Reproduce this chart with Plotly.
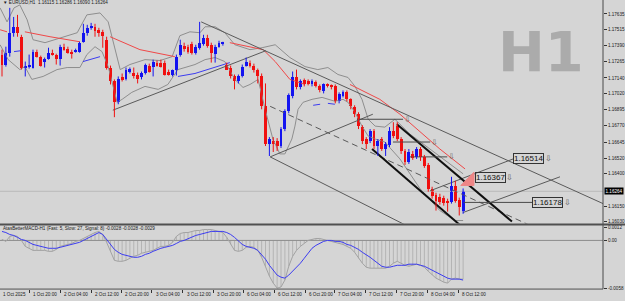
import plotly.graph_objects as go

# ---------------- data ----------------
open_ = [1.17321, 1.17244, 1.17336, 1.17490, 1.17536, 1.17459, 1.17221, 1.17228, 1.17221, 1.17344,
         1.17305, 1.17267, 1.17290, 1.17336, 1.17321, 1.17290, 1.17382, 1.17367, 1.17344, 1.17344,
         1.17344, 1.17420, 1.17490, 1.17528, 1.17536, 1.17513, 1.17497, 1.17436, 1.17221, 1.17113,
         1.16952, 1.17144, 1.17129, 1.17190, 1.17182, 1.17167, 1.17144, 1.17182, 1.17236, 1.17228,
         1.17259, 1.17259, 1.17259, 1.17190, 1.17167, 1.17198, 1.17321, 1.17390, 1.17382, 1.17405,
         1.17336, 1.17374, 1.17405, 1.17451, 1.17397, 1.17328, 1.17382, 1.17405, 1.17244, 1.17221,
         1.17152, 1.17113, 1.17159, 1.17236, 1.17259, 1.17236, 1.17198, 1.17159, 1.16921, 1.16629,
         1.16652, 1.16652, 1.16614, 1.16745, 1.16883, 1.16998, 1.17144, 1.17067, 1.17121, 1.17113,
         1.17090, 1.17106, 1.17075, 1.17036, 1.17083, 1.17083, 1.17075, 1.16960, 1.16998, 1.17029,
         1.16975, 1.16914, 1.16860, 1.16760, 1.16668, 1.16652, 1.16729, 1.16614, 1.16668, 1.16591,
         1.16622, 1.16729, 1.16768, 1.16668, 1.16576, 1.16491, 1.16553, 1.16530, 1.16591, 1.16530,
         1.16468, 1.16284, 1.16238, 1.16222, 1.16215, 1.16184, 1.16184, 1.16307, 1.16199, 1.16115]
high = [1.17359, 1.17382, 1.17682, 1.17612, 1.17628, 1.17474, 1.17267, 1.17321, 1.17359, 1.17359,
        1.17313, 1.17298, 1.17374, 1.17359, 1.17328, 1.17397, 1.17405, 1.17382, 1.17359, 1.17367,
        1.17420, 1.17559, 1.17551, 1.17566, 1.17559, 1.17528, 1.17513, 1.17459, 1.17236, 1.17129,
        1.17152, 1.17175, 1.17221, 1.17221, 1.17221, 1.17182, 1.17190, 1.17251, 1.17251, 1.17282,
        1.17275, 1.17282, 1.17275, 1.17205, 1.17205, 1.17321, 1.17436, 1.17413, 1.17397, 1.17420,
        1.17397, 1.17574, 1.17474, 1.17474, 1.17413, 1.17397, 1.17428, 1.17420, 1.17259, 1.17236,
        1.17167, 1.17167, 1.17244, 1.17298, 1.17275, 1.17251, 1.17213, 1.17175, 1.17098, 1.16683,
        1.16683, 1.16675, 1.16760, 1.16898, 1.17021, 1.17190, 1.17205, 1.17129, 1.17136, 1.17129,
        1.17129, 1.17121, 1.17090, 1.17098, 1.17098, 1.17090, 1.17090, 1.17029, 1.17044, 1.17044,
        1.16983, 1.16929, 1.16875, 1.16775, 1.16683, 1.16745, 1.16745, 1.16668, 1.16683, 1.16645,
        1.16760, 1.16798, 1.16798, 1.16683, 1.16591, 1.16591, 1.16576, 1.16606, 1.16606, 1.16545,
        1.16483, 1.16299, 1.16253, 1.16245, 1.16230, 1.16207, 1.16376, 1.16345, 1.16215, 1.16286]
low = [1.17152, 1.17228, 1.17305, 1.17459, 1.17459, 1.17205, 1.17152, 1.17213, 1.17213, 1.17298,
       1.17228, 1.17221, 1.17282, 1.17313, 1.17244, 1.17236, 1.17351, 1.17328, 1.17290, 1.17336,
       1.17336, 1.17413, 1.17467, 1.17513, 1.17459, 1.17459, 1.17374, 1.17205, 1.17090, 1.16837,
       1.16937, 1.17113, 1.17121, 1.17175, 1.17136, 1.17098, 1.17129, 1.17167, 1.17182, 1.17152,
       1.17228, 1.17221, 1.17159, 1.17159, 1.17152, 1.17159, 1.17305, 1.17344, 1.17328, 1.17321,
       1.17321, 1.17359, 1.17390, 1.17374, 1.17259, 1.17259, 1.17374, 1.17390, 1.17205, 1.17136,
       1.17052, 1.17098, 1.17144, 1.17228, 1.17221, 1.17182, 1.17098, 1.16898, 1.16614, 1.16537,
       1.16568, 1.16576, 1.16599, 1.16729, 1.16867, 1.16983, 1.17052, 1.17052, 1.17075, 1.17083,
       1.17075, 1.17067, 1.17029, 1.17021, 1.17067, 1.17052, 1.16944, 1.16944, 1.16990, 1.16960,
       1.16898, 1.16837, 1.16745, 1.16629, 1.16591, 1.16637, 1.16591, 1.16537, 1.16576, 1.16537,
       1.16606, 1.16675, 1.16652, 1.16553, 1.16468, 1.16476, 1.16507, 1.16514, 1.16499, 1.16445,
       1.16261, 1.16207, 1.16115, 1.16161, 1.16153, 1.16107, 1.16169, 1.16176, 1.16077, 1.16090]
close = [1.17244, 1.17336, 1.17490, 1.17536, 1.17490, 1.17221, 1.17228, 1.17236, 1.17344, 1.17305,
         1.17236, 1.17290, 1.17336, 1.17321, 1.17290, 1.17382, 1.17359, 1.17336, 1.17328, 1.17351,
         1.17413, 1.17490, 1.17528, 1.17536, 1.17505, 1.17490, 1.17467, 1.17221, 1.17113, 1.16952,
         1.17136, 1.17129, 1.17205, 1.17213, 1.17152, 1.17129, 1.17175, 1.17244, 1.17190, 1.17267,
         1.17236, 1.17228, 1.17167, 1.17167, 1.17198, 1.17305, 1.17397, 1.17367, 1.17344, 1.17336,
         1.17382, 1.17413, 1.17451, 1.17390, 1.17336, 1.17382, 1.17413, 1.17407, 1.17205, 1.17152,
         1.17113, 1.17152, 1.17228, 1.17267, 1.17236, 1.17198, 1.17159, 1.16921, 1.16629, 1.16668,
         1.16629, 1.16614, 1.16745, 1.16883, 1.17006, 1.17144, 1.17067, 1.17113, 1.17090, 1.17098,
         1.17113, 1.17075, 1.17044, 1.17090, 1.17080, 1.17067, 1.16960, 1.17013, 1.17029, 1.16975,
         1.16921, 1.16860, 1.16768, 1.16652, 1.16629, 1.16729, 1.16614, 1.16652, 1.16591, 1.16629,
         1.16729, 1.16691, 1.16668, 1.16576, 1.16491, 1.16568, 1.16522, 1.16591, 1.16530, 1.16460,
         1.16284, 1.16230, 1.16192, 1.16184, 1.16176, 1.16180, 1.16307, 1.16192, 1.16146, 1.16264]

# Bollinger bands (sampled at bar positions)
bb_up_x = [-0.5, 1.3, 3.1, 4.6, 6.5, 8.0, 11.1, 15.0, 19.4, 21.9, 25.3, 27.4, 29.2, 30.5, 33.0, 36.9,
           40.8, 43.9, 45.9, 48.5, 51.1, 52.4, 55.0, 57.5, 60.1, 64.0, 67.1, 70.5, 74.3, 78.2, 81.5,
           84.1, 86.7, 89.3, 91.1, 92.9, 94.5, 96.3, 98.8, 101.4, 105.3, 110.5, 115.6, 119.0]
bb_up = [1.17682, 1.17574, 1.17682, 1.17705, 1.17589, 1.17436, 1.17413, 1.17451, 1.17490, 1.17628,
         1.17643, 1.17574, 1.17359, 1.17205, 1.17244, 1.17282, 1.17275, 1.17305, 1.17467, 1.17497,
         1.17490, 1.17536, 1.17536, 1.17490, 1.17397, 1.17359, 1.17374, 1.17397, 1.17298, 1.17228,
         1.17205, 1.17221, 1.17167, 1.17144, 1.17075, 1.16975, 1.16821, 1.16768, 1.16760, 1.16821,
         1.16706, 1.16591, 1.16476, 1.16399]
bb_lo_x = [-0.5, 1.6, 4.6, 5.9, 7.7, 10.6, 14.2, 16.8, 20.1, 21.9, 24.0, 25.8, 27.4, 29.7, 31.0, 33.5,
           36.9, 40.3, 42.8, 45.4, 48.0, 49.8, 52.4, 55.0, 57.5, 60.1, 62.2, 64.0, 66.1, 67.9, 69.9,
           71.7, 73.0, 74.8, 75.6, 76.4, 77.7, 80.0, 82.6, 85.9, 88.0, 89.3, 91.1, 92.9, 94.5, 96.3,
           98.8, 102.7, 107.9, 113.0, 116.9, 119.0]
bb_lo = [1.17397, 1.17282, 1.17205, 1.17228, 1.17129, 1.17152, 1.17205, 1.17221, 1.17221, 1.17321,
         1.17382, 1.17344, 1.17228, 1.16952, 1.16975, 1.17029, 1.17075, 1.17052, 1.17090, 1.17205,
         1.17228, 1.17244, 1.17282, 1.17298, 1.17267, 1.17129, 1.17067, 1.17090, 1.17129, 1.16898,
         1.16668, 1.16553, 1.16553, 1.16668, 1.16768, 1.16898, 1.16952, 1.16975, 1.16990, 1.16960,
         1.16975, 1.16952, 1.16875, 1.16768, 1.16691, 1.16668, 1.16645, 1.16514, 1.16284, 1.16115,
         1.16038, 1.16038]

# red moving average (drawn in segments)
ma_red_x = [-0.5, 1.3, None, 5.9, 12.4, 20.1, None, 27.9, 35.6, 44.6, None,
            58.8, 64.0, 67.4, 70.5, 74.3, 78.2, None, 89.8, 97.5, 102.7, 107.9, 113.0, 119.5]
ma_red = [1.17513, 1.17497, None, 1.17497, 1.17459, 1.17420, None, 1.17459, 1.17359, 1.17305, None,
          1.17413, 1.17382, 1.17359, 1.17267, 1.17129, 1.17090, None, 1.17090, 1.16975, 1.16860,
          1.16722, 1.16591, 1.16437]
# blue moving average (drawn in segments)
ma_blue_x = [3.1, 4.9, None, 20.9, 25.3, None, 45.4, 49.8, 58.8, None, 80.3, 82.1, None, 84.1, 85.9]
ma_blue = [1.17344, 1.17351, None, 1.17267, 1.17305, None, 1.17152, 1.17175, 1.17259, None,
           1.16929, 1.16937, None, 1.16944, 1.16937]

# MACD panel
macd = [0.00007, -0.00007, 0.00029, 0.00036, 0.00029, 0.0, -0.00043, -0.00057, -0.00072, -0.00072,
        -0.00072, -0.00072, -0.00079, -0.00079, -0.00065, -0.00043, -0.00036, -0.00029, -0.00022, -0.00007,
        0.0, 0.00014, 0.00029, 0.00043, 0.00057, 0.00065, 0.00043, -0.00014, -0.00079, -0.00144,
        -0.00151, -0.00151, -0.00144, -0.00129, -0.00115, -0.00108, -0.00093, -0.00086, -0.00079, -0.00072,
        -0.00057, -0.00043, -0.00043, -0.00036, -0.00014, 0.00029, 0.0005, 0.00057, 0.00057, 0.00065,
        0.00072, 0.00072, 0.00079, 0.00079, 0.00079, 0.00072, 0.00065, 0.00057, 0.00022, -0.00029,
        -0.00072, -0.00079, -0.00072, -0.0005, -0.00043, -0.0005, -0.00072, -0.00122, -0.00187, -0.00258,
        -0.00309, -0.00345, -0.00337, -0.00287, -0.00187, -0.00115, -0.00072, -0.00043, -0.00022, 0.0,
        0.00007, 0.00014, 0.00014, 0.00007, 0.0, -0.00007, -0.00014, -0.00022, -0.00029, -0.00043,
        -0.00057, -0.00086, -0.00129, -0.00165, -0.00194, -0.00201, -0.00201, -0.00201, -0.00201, -0.00201,
        -0.00187, -0.00165, -0.00151, -0.00165, -0.0018, -0.00187, -0.0018, -0.00172, -0.0018, -0.00194,
        -0.00223, -0.00251, -0.00273, -0.00287, -0.00302, -0.00309, -0.0028, -0.00273, -0.0028, -0.0028]
signal = [0.00065, 0.00057, 0.00043, 0.00036, 0.00022, 0.00007, 0.0, -0.00014, -0.00029, -0.00036,
          -0.00043, -0.0005, -0.00057, -0.00057, -0.00057, -0.0005, -0.00043, -0.00036, -0.00029, -0.00022,
          -0.00014, 0.0, 0.00014, 0.00029, 0.00043, 0.00057, 0.00043, 0.00007, -0.00029, -0.00065,
          -0.00086, -0.00101, -0.00108, -0.00115, -0.00122, -0.00122, -0.00115, -0.00101, -0.00093, -0.00079,
          -0.00065, -0.00057, -0.0005, -0.00043, -0.00036, -0.00022, -0.00007, 0.0, 0.00014, 0.00022,
          0.00036, 0.00043, 0.0005, 0.00057, 0.00065, 0.00065, 0.00065, 0.00065, 0.00057, 0.00043,
          0.00022, -0.00007, -0.00029, -0.00043, -0.0005, -0.00057, -0.00072, -0.00101, -0.00136, -0.0018,
          -0.00215, -0.00251, -0.00266, -0.00273, -0.00251, -0.00223, -0.00194, -0.00165, -0.00129, -0.00093,
          -0.00057, -0.00036, -0.00022, -0.00007, 0.0, 0.0, -0.00007, -0.00007, -0.00014, -0.00029,
          -0.00036, -0.0005, -0.00065, -0.00086, -0.00101, -0.00122, -0.00144, -0.00165, -0.00187, -0.00194,
          -0.00194, -0.00187, -0.0018, -0.0018, -0.0018, -0.00172, -0.00172, -0.00172, -0.0018, -0.00187,
          -0.00201, -0.00215, -0.0023, -0.00244, -0.00258, -0.00273, -0.0028, -0.0028, -0.0028, -0.00287]

x_tick_pos = [7.0, 15.0, 23.0, 30.8, 38.7, 46.7, 54.5, 62.2, 70.2, 78.2, 85.9, 93.9, 101.7, 109.7, 117.7]
x_tick_text = ["1 Oct 20:00", "2 Oct 04:00", "2 Oct 12:00", "2 Oct 20:00", "3 Oct 04:00",
               "3 Oct 12:00", "3 Oct 20:00", "6 Oct 04:00", "6 Oct 12:00", "6 Oct 20:00",
               "7 Oct 04:00", "7 Oct 12:00", "7 Oct 20:00", "8 Oct 04:00", "8 Oct 12:00"]
price_ticks = [1.17635, 1.17515, 1.17390, 1.17265, 1.17140, 1.17020, 1.16895, 1.16770,
               1.16645, 1.16520, 1.16400, 1.16150, 1.16030]
last_price = 1.16264

# drawn objects: (x0, y0, x1, y1)
trend_lines = [(51.4, 1.17574, 155.1, 1.16169), (28.6, 1.16891, 68.1, 1.17351),
               (69.2, 1.16530, 107.9, 1.15946), (69.2, 1.16530, 95.7, 1.16860),
               (110.5, 1.16268, 131.9, 1.16514), (119.0, 1.16100, 144.0, 1.16376)]
dashed_lines = [(69.2, 1.16921, 136.3, 1.16000)]
thick_lines = [(101.9, 1.16783, 131.6, 1.16030), (95.5, 1.16591, 119.5, 1.15969)]
level_lines = [(91.6, 103.5, 1.16821), (100.9, 110.5, 1.16645), (105.3, 114.9, 1.16530),
               (119.0, 136.8, 1.16178)]
price_labels = [(131.9, 1.16514, 139.6), (122.1, 1.16367, 129.6), (136.8, 1.16178, 144.6)]
tri_x = [118.4, 121.8, 121.8, 118.4]
tri_y = [1.16309, 1.16412, 1.16309, 1.16309]

# ---------------- figure ----------------
W, H = 625, 301
BG = "#d5d5d5"
BLUE = "#1414f0"
RED = "#f01010"
n = len(open_)
xs = list(range(n))

fig = go.Figure()

# Bollinger bands
fig.add_trace(go.Scatter(x=bb_up_x, y=bb_up, mode="lines", line=dict(color="#8e8e8e", width=1),
                         xaxis="x", yaxis="y", hoverinfo="skip"))
fig.add_trace(go.Scatter(x=bb_lo_x, y=bb_lo, mode="lines", line=dict(color="#8e8e8e", width=1),
                         xaxis="x", yaxis="y", hoverinfo="skip"))
fig.add_trace(go.Scatter(x=ma_red_x, y=ma_red, mode="lines", line=dict(color="#f04848", width=1),
                         connectgaps=False, xaxis="x", yaxis="y"))
fig.add_trace(go.Scatter(x=ma_blue_x, y=ma_blue, mode="lines", line=dict(color="#3c3cf0", width=1),
                         connectgaps=False, xaxis="x", yaxis="y"))

# bid line
fig.add_trace(go.Scatter(x=[-1, 156], y=[last_price, last_price], mode="lines",
                         line=dict(color="#b9b9b9", width=1), xaxis="x", yaxis="y"))

# trend lines
for (x0, y0, x1, y1) in trend_lines:
    fig.add_trace(go.Scatter(x=[x0, x1], y=[y0, y1], mode="lines",
                             line=dict(color="#5a5a5a", width=1), xaxis="x", yaxis="y"))
for (x0, y0, x1, y1) in dashed_lines:
    fig.add_trace(go.Scatter(x=[x0, x1], y=[y0, y1], mode="lines",
                             line=dict(color="#5a5a5a", width=1, dash="6px,4px"), xaxis="x", yaxis="y"))
for (x0, y0, x1, y1) in thick_lines:
    fig.add_trace(go.Scatter(x=[x0, x1], y=[y0, y1], mode="lines",
                             line=dict(color="#101010", width=2), xaxis="x", yaxis="y"))
for (x0, x1, yv) in level_lines:
    fig.add_trace(go.Scatter(x=[x0, x1], y=[yv, yv], mode="lines",
                             line=dict(color="#4a4a4a", width=1), xaxis="x", yaxis="y"))

# red triangle
fig.add_trace(go.Scatter(x=tri_x, y=tri_y, mode="lines", fill="toself", fillcolor="#ee8686",
                         line=dict(color="#ee8686", width=1), xaxis="x", yaxis="y"))

# candles: wicks
for up, col in ((True, BLUE), (False, RED)):
    wx, wy = [], []
    for i in xs:
        if (close[i] >= open_[i]) == up:
            wx += [i, i, None]
            wy += [low[i], high[i], None]
    fig.add_trace(go.Scatter(x=wx, y=wy, mode="lines", line=dict(color=col, width=1),
                             xaxis="x", yaxis="y", hoverinfo="skip"))
# candles: bodies
for up, col in ((True, BLUE), (False, RED)):
    bx, bb, bh = [], [], []
    for i in xs:
        if (close[i] >= open_[i]) == up:
            bx.append(i)
            bb.append(min(open_[i], close[i]))
            bh.append(max(abs(close[i] - open_[i]), 0.00008))
    fig.add_trace(go.Bar(x=bx, y=bh, base=bb, width=0.72, marker=dict(color=col, line=dict(width=0)),
                         xaxis="x", yaxis="y"))

# MACD panel: histogram as thin hatching
hx, hy = [], []
for i in xs:
    hx += [i, i, None]
    hy += [0, macd[i], None]
fig.add_trace(go.Scatter(x=hx, y=hy, mode="lines", line=dict(color="#ababab", width=0.8),
                         xaxis="x", yaxis="y2", hoverinfo="skip"))
fig.add_trace(go.Scatter(x=[-1, 156], y=[0, 0], mode="lines", line=dict(color="#8c8c8c", width=1),
                         xaxis="x", yaxis="y2"))
fig.add_trace(go.Scatter(x=xs, y=macd, mode="lines", line=dict(color="#a2a2a2", width=1),
                         xaxis="x", yaxis="y2"))
fig.add_trace(go.Scatter(x=xs, y=signal, mode="lines", line=dict(color="#3c3cf0", width=1),
                         xaxis="x", yaxis="y2"))

x_right = 603 / W
main_bottom = 1 - 225 / H
macd_top = 1 - 227 / H
macd_bottom = 1 - 291 / H

small = dict(family="Liberation Sans, Arial, sans-serif", size=4.6, color="#1a1a1a")

annotations = []
# x labels
for p, t in zip(x_tick_pos, x_tick_text):
    annotations.append(dict(x=p + 0.4, y=1 - 296 / H, xref="x", yref="paper", text=t,
                            showarrow=False, xanchor="left", yanchor="middle", font=small))
annotations.append(dict(x=0.5 / W, y=1 - 296 / H, xref="paper", yref="paper", text="1 Oct 2025",
                        showarrow=False, xanchor="left", yanchor="middle", font=small))
# header
annotations.append(dict(x=1 / W, y=1 - 3 / H, xref="paper", yref="paper",
                        text="\u25bc EURUSD,H1  1.16115 1.16286 1.16090 1.16264",
                        showarrow=False, xanchor="left", yanchor="middle", font=small))
# MACD label
annotations.append(dict(x=1 / W, y=1 - 230 / H, xref="paper", yref="paper",
                        text="AtasBetterMACD-H1 (Fast: 5, Slow: 27, Signal: 8) -0.0028 -0.0028 -0.0029",
                        showarrow=False, xanchor="left", yanchor="middle", font=small))
# watermark
annotations.append(dict(x=541 / W, y=1 - 52 / H, xref="paper", yref="paper", text="<b>H1</b>",
                        showarrow=False, xanchor="center", yanchor="middle",
                        font=dict(family="DejaVu Sans", size=56, color="#ababab")))
# price label boxes with arrows
for (px, pv, ax) in price_labels:
    annotations.append(dict(x=px, y=pv, xref="x", yref="y", text=f"{pv:.5f}", showarrow=False,
                            xanchor="left", yanchor="middle", bordercolor="#333333", borderwidth=1,
                            borderpad=0, font=dict(family="Liberation Sans, Arial", size=8, color="#111111")))
    annotations.append(dict(x=ax, y=pv, xref="x", yref="y", text="\u21e9", showarrow=False,
                            xanchor="left", yanchor="middle",
                            font=dict(family="DejaVu Sans", size=8, color="#555555")))
for (x0, x1, yv) in level_lines[:3]:
    annotations.append(dict(x=x1 - 0.3, y=yv, xref="x", yref="y", text="\u21e9", showarrow=False,
                            xanchor="left", yanchor="middle",
                            font=dict(family="DejaVu Sans", size=8, color="#666666")))
# current price box
annotations.append(dict(x=604 / W, y=last_price, xref="paper", yref="y", text="1.16264", showarrow=False,
                        xanchor="left", yanchor="middle", bgcolor="#000000", borderpad=0.5,
                        font=dict(family="Liberation Sans, Arial", size=4.6, color="#ffffff")))

shapes = [
    dict(type="line", xref="paper", yref="paper", x0=x_right, x1=x_right, y0=macd_bottom, y1=1,
         line=dict(color="#4a4a4a", width=1)),
    dict(type="line", xref="paper", yref="paper", x0=0, x1=1, y0=1 - 226 / H, y1=1 - 226 / H,
         line=dict(color="#505050", width=2)),
    dict(type="line", xref="paper", yref="paper", x0=0, x1=x_right, y0=macd_bottom, y1=macd_bottom,
         line=dict(color="#505050", width=1)),
]

fig.update_layout(
    width=W, height=H, margin=dict(l=0, r=0, t=0, b=0),
    paper_bgcolor=BG, plot_bgcolor=BG, showlegend=False, barmode="overlay", bargap=0,
    xaxis=dict(domain=[0, x_right], range=[-0.52, 155.1], anchor="y2", showgrid=False, zeroline=False,
               tickmode="array", tickvals=x_tick_pos, ticktext=[""] * len(x_tick_pos),
               ticks="outside", ticklen=3, tickcolor="#333333", showline=False),
    yaxis=dict(domain=[main_bottom, 1], range=[1.16015, 1.17743], side="right", anchor="x",
               showgrid=False, zeroline=False, tickmode="array", tickvals=price_ticks,
               ticktext=[f"{v:.5f}" for v in price_ticks], ticks="outside", ticklen=3,
               tickcolor="#333333", tickfont=small, showline=False),
    yaxis2=dict(domain=[macd_bottom, macd_top], range=[-0.00352, 0.00108], side="right", anchor="x",
                showgrid=False, zeroline=False, tickmode="array", tickvals=[0.00093, 0.0, -0.00345],
                ticktext=["0.0012", "0.00", "-0.0058"], ticks="outside", ticklen=3,
                tickcolor="#333333", tickfont=small, showline=False),
    annotations=annotations, shapes=shapes,
)

fig.write_html("out.html")
